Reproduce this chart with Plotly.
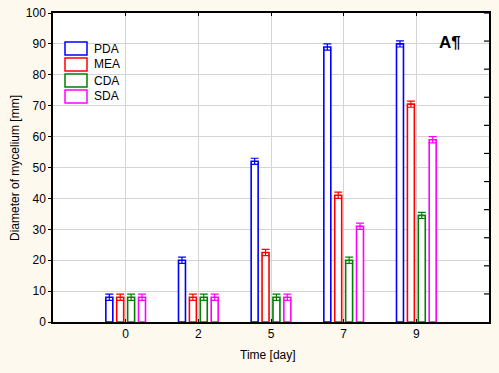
import plotly.graph_objects as go

days = ["0", "2", "5", "7", "9"]
series_names = ["PDA", "MEA", "CDA", "SDA"]
pda = [8, 20, 52, 89, 90]
mea = [8, 8, 22.5, 41, 70.5]
cda = [8, 8, 8, 20, 34.5]
sda = [8, 8, 8, 31, 59]
err_pda = [1, 1, 1, 1, 1]
err_mea = [1, 1, 1, 1, 1]
err_cda = [1, 1, 1, 1, 1]
err_sda = [1, 1, 1, 1, 1]
colors = ["#0000FF", "#FF0000", "#008000", "#FF00FF"]
right_tick_count = 11  # right-hand frame ticks divide the 0-100 range into 11 parts

values = [pda, mea, cda, sda]
errors = [err_pda, err_mea, err_cda, err_sda]

FONT = "Liberation Sans, Arial, sans-serif"
W, H = 499, 373
L, R, T, B = 53, 10, 13, 51

fig = go.Figure()
for name, vals, errs, c in zip(series_names, values, errors, colors):
    fig.add_trace(go.Bar(
        x=days, y=vals, name=name,
        marker=dict(color="white", line=dict(color=c, width=1.6)),
        error_y=dict(type="data", array=errs, color=c, thickness=1.2, width=4),
        showlegend=False,
    ))

pw = W - L - R
ph = H - T - B
def px_x(p):
    return (p - L) / pw
def px_y(p):
    return (H - B - p) / ph

# right-hand frame ticks (inside)
for k in range(1, right_tick_count + 1):
    yv = k * 100 / right_tick_count
    fig.add_shape(type="line", xref="paper", yref="y",
                  x0=1 - 5 / pw, x1=1, y0=yv, y1=yv,
                  line=dict(color="black", width=1.2))

# custom legend
for i, (name, c) in enumerate(zip(series_names, colors)):
    top = 42 + 16 * i
    fig.add_shape(type="rect", xref="paper", yref="paper",
                  x0=px_x(65), x1=px_x(87), y0=px_y(top + 13), y1=px_y(top),
                  line=dict(color=c, width=1.5), fillcolor="white")
    fig.add_annotation(xref="paper", yref="paper", x=px_x(92), y=px_y(top + 6.5),
                       text=name, showarrow=False, xanchor="left", yanchor="middle",
                       font=dict(family=FONT, size=12, color="black"))

fig.add_annotation(xref="paper", yref="paper", x=px_x(450), y=px_y(42),
                   text="<b>A¶</b>", showarrow=False, xanchor="center", yanchor="middle",
                   font=dict(family=FONT, size=17, color="black"))

# axis titles
fig.add_annotation(xref="paper", yref="paper", x=px_x(268), y=px_y(355),
                   text="Time [day]", showarrow=False, xanchor="center", yanchor="middle",
                   font=dict(family=FONT, size=12, color="black"))
fig.add_annotation(xref="paper", yref="paper", x=px_x(15), y=px_y(168),
                   text="Diameter of mycelium [mm]", showarrow=False, textangle=-90,
                   xanchor="center", yanchor="middle",
                   font=dict(family=FONT, size=12, color="black"))

fig.update_layout(
    width=W, height=H,
    margin=dict(l=L, r=R, t=T, b=B, autoexpand=False),
    showlegend=False,
    paper_bgcolor="#FEF9EE",
    plot_bgcolor="white",
    barmode="group",
    bargap=0.4,
    bargroupgap=0.36,
    font=dict(family=FONT, size=12, color="black"),
    xaxis=dict(
        type="category", categoryorder="array", categoryarray=days,
        range=[-1, 5], automargin=False,
        showgrid=True, gridcolor="#D4D4D4", gridwidth=1,
        showline=True, linecolor="black", linewidth=1.5, mirror="ticks",
        ticks="inside", ticklen=3, tickcolor="black",
        tickfont=dict(family=FONT, size=12, color="black"),
        zeroline=False,
    ),
    yaxis=dict(
        range=[0, 100], dtick=10, automargin=False,
        showgrid=True, gridcolor="#D4D4D4", gridwidth=1,
        showline=True, linecolor="black", linewidth=1.5, mirror=True,
        ticks="outside", ticklen=3, tickcolor="black",
        tickfont=dict(family=FONT, size=12, color="black"),
        zeroline=False,
    ),
)

fig.write_html(
    "out.html",
    config={"displayModeBar": False},
    post_script="document.body.style.margin='0';document.body.style.overflow='hidden';document.body.style.background='#FEF9EE';",
)
